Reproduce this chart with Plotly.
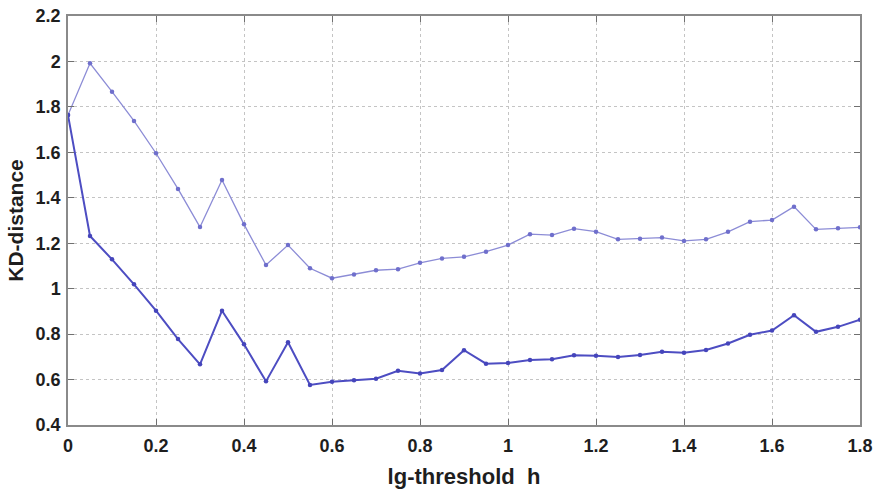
import plotly.graph_objects as go

# threshold values h (step 0.05)
h = [round(0.05 * i, 2) for i in range(37)]

# KD-distance, upper (lighter) curve
kd_upper = [1.764, 1.992, 1.867, 1.738, 1.596, 1.439, 1.271, 1.478, 1.283, 1.104,
            1.192, 1.090, 1.046, 1.062, 1.081, 1.086, 1.114, 1.133, 1.140, 1.163,
            1.192, 1.240, 1.236, 1.264, 1.251, 1.217, 1.220, 1.225, 1.210, 1.217,
            1.250, 1.295, 1.302, 1.361, 1.261, 1.266, 1.270]

# KD-distance, lower (darker) curve
kd_lower = [1.764, 1.232, 1.129, 1.019, 0.903, 0.778, 0.667, 0.903, 0.755, 0.592,
            0.764, 0.576, 0.590, 0.597, 0.604, 0.639, 0.627, 0.642, 0.729, 0.670,
            0.673, 0.686, 0.689, 0.707, 0.705, 0.699, 0.708, 0.722, 0.718, 0.730,
            0.759, 0.797, 0.816, 0.883, 0.810, 0.832, 0.863]

x_ticks = [0, 0.2, 0.4, 0.6, 0.8, 1, 1.2, 1.4, 1.6, 1.8]
x_tick_text = ["0", "0.2", "0.4", "0.6", "0.8", "1", "1.2", "1.4", "1.6", "1.8"]
y_ticks = [0.4, 0.6, 0.8, 1, 1.2, 1.4, 1.6, 1.8, 2, 2.2]
y_tick_text = ["0.4", "0.6", "0.8", "1", "1.2", "1.4", "1.6", "1.8", "2", "2.2"]

fig = go.Figure()
fig.add_trace(go.Scatter(
    x=h, y=kd_upper, mode="lines+markers",
    line=dict(color="#8c8cd6", width=1.3),
    marker=dict(color="#6f6fcc", size=4.5, symbol="circle"),
    showlegend=False,
))
fig.add_trace(go.Scatter(
    x=h, y=kd_lower, mode="lines+markers",
    line=dict(color="#4d4dc2", width=2),
    marker=dict(color="#4545bb", size=4.5, symbol="circle"),
    showlegend=False,
))

family = "Liberation Sans, Arial, sans-serif"
axis_font = dict(family=family, size=18, color="#1e1e1e", weight="bold")

common = dict(
    tickmode="array", tickfont=axis_font, ticks="inside", ticklen=6,
    tickcolor="#707070", showline=True, linecolor="#8a8a8a", linewidth=1.5,
    mirror="ticks", showgrid=True, gridcolor="#c4c4c4", griddash="dot",
    gridwidth=1, zeroline=False, automargin=False,
)

fig.update_xaxes(
    range=[0, 1.8], tickvals=x_ticks, ticktext=x_tick_text,
    ticklabelstandoff=4,
    title=dict(text="lg-threshold\u00a0\u00a0h",
               font=dict(family=family, size=22, color="#1e1e1e", weight="bold"),
               standoff=14),
    **common,
)
fig.update_yaxes(
    range=[0.4, 2.2], tickvals=y_ticks, ticktext=y_tick_text,
    ticklabelstandoff=2,
    title=dict(text="KD-distance",
               font=dict(family=family, size=21, color="#1e1e1e", weight="bold"),
               standoff=6),
    **common,
)

fig.update_layout(
    width=873, height=489,
    margin=dict(l=68, r=13, t=16, b=64),
    paper_bgcolor="white", plot_bgcolor="white",
)

fig.write_html("out.html")
